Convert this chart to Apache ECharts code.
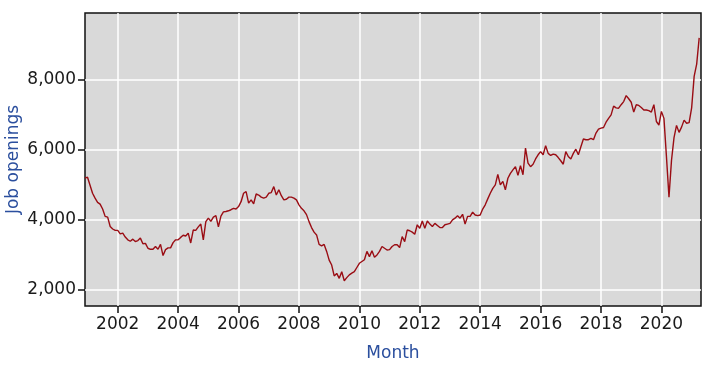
<!DOCTYPE html>
<html>
<head>
<meta charset="utf-8">
<title>Job openings</title>
<script src="https://cdn.jsdelivr.net/npm/echarts@6/dist/echarts.min.js"></script>
<style>
  html, body { margin: 0; padding: 0; background: #fff; }
  #myChart { width: 722px; height: 370px; }
</style>
</head>
<body>
<div id="myChart"></div>
<script>
// monthly series, first value is Dec 2000
const startYear = 2000;
const startMonth = 12;
const openings = [
  5190,
  5220, 4990, 4760, 4620, 4500, 4450, 4310, 4100, 4080, 3810, 3740, 3700,
  3700, 3600, 3620, 3510, 3430, 3390, 3450, 3380, 3410, 3480, 3320, 3330,
  3190, 3160, 3160, 3240, 3160, 3300, 2980, 3150, 3200, 3200, 3350, 3430,
  3430, 3500, 3560, 3540, 3620, 3340, 3710, 3700, 3800, 3880, 3430, 3950,
  4050, 3960, 4080, 4120, 3800, 4110, 4230, 4240, 4260, 4290, 4330, 4310,
  4380, 4520, 4760, 4810, 4480, 4570, 4460, 4740, 4710, 4650, 4620, 4650,
  4760, 4780, 4950, 4710, 4860, 4690, 4570, 4590, 4650, 4650, 4620, 4570,
  4430, 4330, 4260, 4150, 3950, 3780, 3650, 3570, 3300, 3260, 3300, 3100,
  2850, 2710, 2400, 2470, 2330, 2520, 2260, 2350, 2430, 2480, 2520, 2640,
  2760, 2810, 2860, 3100, 2950, 3120, 2930, 3000, 3100, 3240, 3190, 3140,
  3150, 3240, 3290, 3290, 3210, 3520, 3380, 3710, 3690, 3650, 3590, 3860,
  3760, 3970, 3760, 3970, 3880, 3810, 3900, 3840, 3780, 3780, 3860, 3880,
  3900, 4000, 4050, 4120, 4050, 4160, 3880, 4100, 4100, 4220, 4140, 4120,
  4140, 4310, 4430, 4600, 4760, 4900, 5000, 5300, 5000, 5100, 4860, 5190,
  5330, 5430, 5520, 5270, 5550, 5290, 6050, 5620, 5520, 5590, 5740, 5860,
  5950, 5860, 6120, 5900, 5840, 5880, 5860, 5780, 5690, 5590, 5950, 5810,
  5740, 5900, 6020, 5860, 6090, 6310, 6290, 6290, 6330, 6290, 6480, 6590,
  6620, 6640, 6790, 6900, 7000, 7250, 7200, 7190, 7290, 7380, 7550, 7460,
  7360, 7080, 7290, 7270, 7210, 7140, 7140, 7120, 7080, 7290, 6810, 6710,
  7100, 6900, 5800, 4650, 5700, 6350, 6700, 6500, 6650, 6850, 6760, 6780,
  7200, 8100, 8450, 9200
];
const xTickYears = [2002, 2004, 2006, 2008, 2010, 2012, 2014, 2016, 2018, 2020];
const yTicks = [2000, 4000, 6000, 8000];

// x as decimal year (month start)
const seriesData = openings.map(function (v, i) {
  return [startYear + (startMonth - 1 + i) / 12, v];
});

const font = 'DejaVu Sans, Verdana, sans-serif';
const myChart = echarts.init(document.getElementById('myChart'));
myChart.setOption({
  animation: false,
  backgroundColor: '#fff',
  grid: {
    left: 85,
    right: 21,
    top: 13,
    bottom: 64,
    outerBoundsMode: 'none',
    show: true,
    backgroundColor: '#d9d9d9',
    borderColor: '#111',
    borderWidth: 1.5
  },
  xAxis: {
    type: 'value',
    min: startYear + (startMonth - 1) / 12,
    max: 2021.31,
    name: 'Month',
    nameLocation: 'middle',
    nameGap: 39,
    nameMoveOverlap: false,
    nameTextStyle: { color: '#2b4f9e', fontSize: 17, fontFamily: font },
    axisLine: { show: false },
    axisTick: {
      show: true,
      length: 7,
      customValues: xTickYears,
      lineStyle: { color: '#111', width: 1.5 }
    },
    axisLabel: {
      customValues: xTickYears,
      margin: 10,
      color: '#1a1a1a',
      fontSize: 17,
      fontFamily: font,
      formatter: function (v) {
        return String(v);
      }
    },
    splitLine: { show: true, lineStyle: { color: '#fff', width: 1.5 } }
  },
  yAxis: {
    type: 'value',
    min: 1540,
    max: 9910,
    name: 'Job openings',
    nameLocation: 'middle',
    nameGap: 63,
    nameMoveOverlap: false,
    nameTextStyle: { color: '#2b4f9e', fontSize: 17, fontFamily: font },
    axisLine: { show: false },
    axisTick: {
      show: true,
      length: 7,
      customValues: yTicks,
      lineStyle: { color: '#111', width: 1.5 }
    },
    axisLabel: {
      customValues: yTicks,
      margin: 9,
      color: '#1a1a1a',
      fontSize: 17,
      fontFamily: font,
      formatter: function (v) {
        return v.toLocaleString('en-US');
      }
    },
    splitLine: { show: true, lineStyle: { color: '#fff', width: 1.5 } }
  },
  series: [{
    type: 'line',
    data: seriesData,
    showSymbol: false,
    lineStyle: { color: '#9a0d14', width: 1.4 }
  }]
});
window.addEventListener('resize', function () {
  myChart.resize();
});
</script>
</body>
</html>
